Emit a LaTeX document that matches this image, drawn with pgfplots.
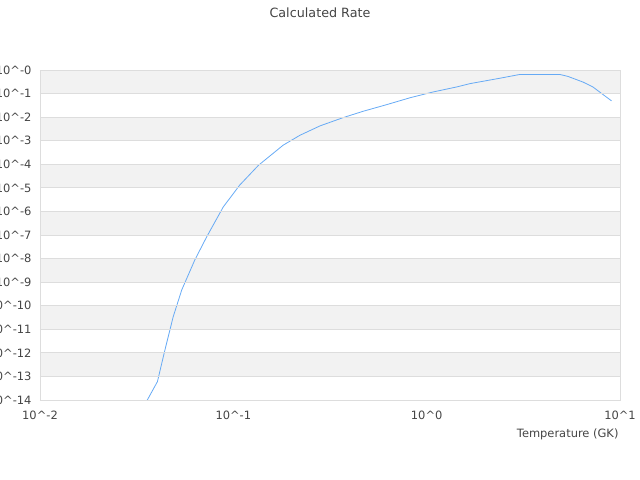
\documentclass[border=0pt]{standalone}
\usepackage{fontspec}
\setmainfont{DejaVu Sans}
\usepackage{pgfplots}
\pgfplotsset{compat=1.18}
\definecolor{band}{HTML}{F2F2F2}
\definecolor{gridc}{HTML}{DDDDDD}
\definecolor{linec}{HTML}{66AAF5}
\definecolor{txt}{HTML}{444444}
\begin{document}
\begin{tikzpicture}
\begin{axis}[
  axis on top,
  at={(40bp,80bp)}, anchor=south west,
  scale only axis, width=580bp, height=330bp,
  xmode=log, ymode=log,
  xmin=0.01, xmax=10, ymin=1e-14, ymax=1,
  xtick={0.01,0.1,1,10},
  xticklabels={10\textasciicircum-2,10\textasciicircum-1,10\textasciicircum0,10\textasciicircum1},
  ytick={1e-14,1e-13,1e-12,1e-11,1e-10,1e-9,1e-8,1e-7,1e-6,1e-5,1e-4,1e-3,1e-2,1e-1,1},
  yticklabels={10\textasciicircum-14,10\textasciicircum-13,10\textasciicircum-12,10\textasciicircum-11,10\textasciicircum-10,10\textasciicircum-9,10\textasciicircum-8,10\textasciicircum-7,10\textasciicircum-6,10\textasciicircum-5,10\textasciicircum-4,10\textasciicircum-3,10\textasciicircum-2,10\textasciicircum-1,10\textasciicircum-0},
  minor tick num=0,
  ymajorgrids,
  major grid style={gridc, line width=0.8pt},
  axis line style={gridc, line width=0.8pt},
  major tick length=0pt, minor tick length=0pt,
  tick label style={font=\fontsize{11.5}{13}\selectfont, text=txt},
  xticklabel style={yshift=-7bp},
  yticklabel style={xshift=-5bp},
  xlabel={Temperature (GK)},
  xlabel style={at={(rel axis cs:1,0)}, anchor=north east, yshift=-25bp, xshift=2bp, font=\fontsize{11.5}{13}\selectfont, text=txt},
]
\addplot[fill=band, draw=none] coordinates {(0.01,1) (10,1) (10,1e-1) (0.01,1e-1)};
\addplot[fill=band, draw=none] coordinates {(0.01,1e-2) (10,1e-2) (10,1e-3) (0.01,1e-3)};
\addplot[fill=band, draw=none] coordinates {(0.01,1e-4) (10,1e-4) (10,1e-5) (0.01,1e-5)};
\addplot[fill=band, draw=none] coordinates {(0.01,1e-6) (10,1e-6) (10,1e-7) (0.01,1e-7)};
\addplot[fill=band, draw=none] coordinates {(0.01,1e-8) (10,1e-8) (10,1e-9) (0.01,1e-9)};
\addplot[fill=band, draw=none] coordinates {(0.01,1e-10) (10,1e-10) (10,1e-11) (0.01,1e-11)};
\addplot[fill=band, draw=none] coordinates {(0.01,1e-12) (10,1e-12) (10,1e-13) (0.01,1e-13)};
\addplot[linec, line width=0.8pt] coordinates {
(0.0359,1e-14)
(0.0405,6.03e-14)
(0.0443,1.35e-12)
(0.0489,3.47e-11)
(0.0541,4.68e-10)
(0.0632,8.71e-9)
(0.0728,8.32e-8)
(0.0887,1.55e-6)
(0.108,1.32e-5)
(0.135,9.12e-5)
(0.181,6.46e-4)
(0.221,1.70e-3)
(0.281,4.27e-3)
(0.370,9.55e-3)
(0.470,0.0178)
(0.621,0.0339)
(0.818,0.066)
(1.08,0.117)
(1.43,0.191)
(1.67,0.263)
(2.39,0.447)
(3.03,0.646)
(4.89,0.646)
(5.37,0.537)
(6.43,0.309)
(7.24,0.191)
(9.04,0.049)
};
\end{axis}
\node[font=\fontsize{12.8}{15}\selectfont, text=txt] at (320bp,467.5bp) {Calculated Rate};
\pgfresetboundingbox
\path[use as bounding box] (0,0) rectangle (640bp,480bp);
\end{tikzpicture}
\end{document}
